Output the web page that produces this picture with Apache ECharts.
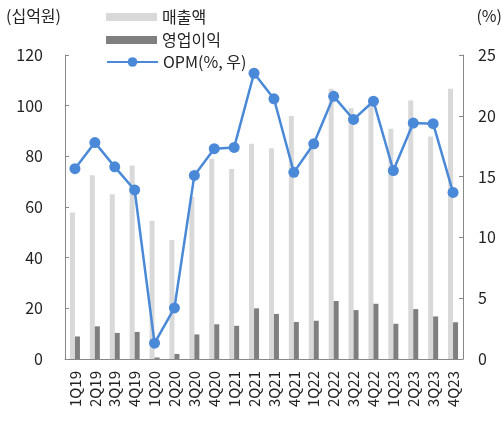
<!DOCTYPE html>
<html>
<head>
<meta charset="utf-8">
<script src="https://cdn.jsdelivr.net/npm/echarts@6/dist/echarts.min.js"></script>
<style>
  html, body { margin: 0; padding: 0; background: #fff; }
  #chart { width: 504px; height: 421px; }
</style>
</head>
<body>
<div id="chart"></div>
<script>
var quarters = ['1Q19', '2Q19', '3Q19', '4Q19', '1Q20', '2Q20', '3Q20', '4Q20', '1Q21', '2Q21',
  '3Q21', '4Q21', '1Q22', '2Q22', '3Q22', '4Q22', '1Q23', '2Q23', '3Q23', '4Q23'];
var sales = [57.8, 72.5, 65, 76.4, 54.6, 47, 64, 79, 75, 85,
  83.2, 95.9, 85, 106.7, 99, 101, 90.9, 102, 87.8, 106.7];
var opProfit = [8.9, 12.9, 10.3, 10.7, 0.6, 2, 9.7, 13.7, 13.1, 20,
  17.8, 14.6, 15.1, 22.9, 19.3, 21.8, 13.9, 19.7, 16.8, 14.5];
var opm = [15.65, 17.8, 15.8, 13.9, 1.3, 4.2, 15.1, 17.3, 17.4, 23.5,
  21.4, 15.35, 17.7, 21.6, 19.7, 21.2, 15.5, 19.4, 19.35, 13.7];

var font = 'Noto Sans CJK KR';
var legendText = { fontSize: 16, color: '#222', fontFamily: font, lineHeight: 16 };
var myChart = echarts.init(document.getElementById('chart'));
var option = {
  animation: false,
  textStyle: { fontFamily: font },
  grid: { left: 65, right: 41, top: 55, bottom: 62 },
  legend: [
    {
      orient: 'vertical',
      left: 106,
      top: 9,
      padding: 0,
      itemGap: 7,
      itemWidth: 51,
      itemHeight: 8,
      textStyle: legendText,
      data: [
        { name: '매출액', icon: 'rect' },
        { name: '영업이익', icon: 'rect' }
      ]
    },
    {
      left: 106,
      top: 54,
      padding: 0,
      itemWidth: 51,
      itemHeight: 12,
      textStyle: legendText,
      data: ['OPM(%, 우)']
    }
  ],
  graphic: [
    { type: 'text', left: 6, top: 8, style: { text: '(십억원)', fontSize: 16, fill: '#222', fontFamily: font } },
    { type: 'text', right: 2, top: 8, style: { text: '(%)', fontSize: 16, fill: '#222', fontFamily: font } }
  ],
  xAxis: {
    type: 'category',
    data: quarters,
    axisLine: { lineStyle: { color: '#888' } },
    axisTick: { inside: true, length: 4, lineStyle: { color: '#888' } },
    axisLabel: { rotate: 90, fontSize: 15, color: '#222', margin: 12 }
  },
  yAxis: [
    {
      type: 'value', min: 0, max: 120, interval: 20,
      axisLine: { show: true, lineStyle: { color: '#888' } },
      axisTick: { show: true, inside: true, length: 4, lineStyle: { color: '#888' } },
      axisLabel: { fontSize: 16, color: '#222', margin: 22 },
      splitLine: { show: false }
    },
    {
      type: 'value', min: 0, max: 25, interval: 5,
      axisLine: { show: true, lineStyle: { color: '#888' } },
      axisTick: { show: true, inside: true, length: 4, lineStyle: { color: '#888' } },
      axisLabel: { fontSize: 16, color: '#222', margin: 15 },
      splitLine: { show: false }
    }
  ],
  series: [
    {
      name: '매출액', type: 'bar', data: sales, barWidth: 5, barGap: '0%',
      itemStyle: { color: '#d9d9d9' }
    },
    {
      name: '영업이익', type: 'bar', data: opProfit, barWidth: 5, barGap: '0%',
      itemStyle: { color: '#7f7f7f' }
    },
    {
      name: 'OPM(%, 우)', type: 'line', yAxisIndex: 1, data: opm,
      symbol: 'circle', symbolSize: 11,
      lineStyle: { color: '#4a89d8', width: 2.5 },
      itemStyle: { color: '#4a89d8' }
    }
  ]
};
option && myChart.setOption(option);
</script>
</body>
</html>
